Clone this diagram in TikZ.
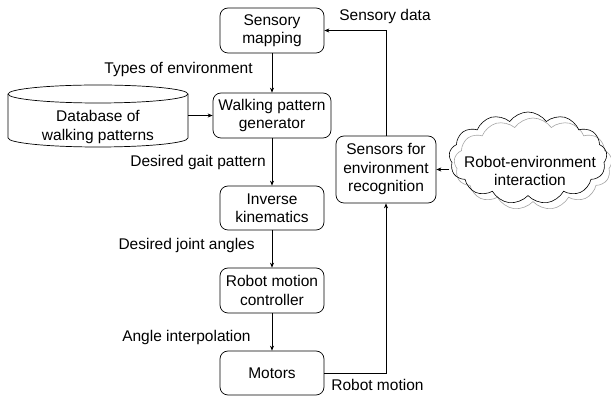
\documentclass[tikz,border=0pt]{standalone}
\usepackage{fontspec}
\setmainfont{Liberation Sans}
\usetikzlibrary{arrows.meta, positioning, shapes.symbols}

\begin{document}
\begin{tikzpicture}[>={Stealth[length=5pt,width=4pt]}, x=1pt, y=1pt, line width=0.7pt,
    font=\fontsize{15.5}{18.5}\selectfont,
    block/.style={draw, rounded corners=8pt, align=center, minimum width=104, minimum height=45, inner sep=1pt},
    lbl/.style={inner sep=0pt},
    puff/.style={cloud, cloud puffs=13, cloud puff arc=110, cloud ignores aspect, minimum width=158, minimum height=92, line width=0.6pt}]
    \useasboundingbox (0,0) rectangle (611,396);

    % Main chain of blocks
    \node[block] (map) at (272,365.5) {Sensory\\mapping};
    \node[block, minimum width=118] (gen) at (272,280.5) {Walking pattern\\generator};
    \node[block, minimum height=44] (ik) at (272,188) {Inverse\\kinematics};
    \node[block] (ctrl) at (272,105.5) {Robot motion\\controller};
    \node[block, minimum height=44] (mot) at (272,23) {Motors};

    % Sensors and environment
    \node[block, minimum width=100, minimum height=67] (sen) at (386,226.5) {Sensors for\\environment\\recognition};
    \node[puff, draw=gray!70] (cloudback) at (533,232) {};
    \node[puff, draw=black] (cloudfront) at (528,238) {};
    \node[align=center] (env) at (530,225) {Robot-environment\\interaction};

    % Database cylinder
    \draw (8,302) -- (8,258) arc[start angle=180, end angle=360, x radius=90, y radius=9] -- (188,302);
    \draw (98,302) ellipse[x radius=90, y radius=9];
    \node[align=center] (db) at (98,269) {Database of\\walking patterns};
    \coordinate (dbout) at (188,280.5);

    % Connectors
    \draw[->] (map) -- (gen);
    \draw[->] (gen) -- (ik);
    \draw[->] (ik) -- (ctrl);
    \draw[->] (ctrl) -- (mot);
    \draw[->] (dbout) -- (gen.west);
    \draw[->] (mot.east) -| (sen.south);
    \draw[->] (sen.north) |- (map.east);
    \draw[->] (cloudfront.west |- sen.east) -- (sen.east);

    % Labels
    \node[lbl, anchor=east] (types) at (253,327) {Types of environment};
    \node[lbl, anchor=east] (gait) at (266,234) {Desired gait pattern};
    \node[lbl, anchor=east] (joint) at (255,151) {Desired joint angles};
    \node[lbl, anchor=east] (interp) at (251,59) {Angle interpolation};
    \node[lbl] (sdata) at (385,380) {Sensory data};
    \node[lbl, anchor=west] (rmotion) at (331,11) {Robot motion};
\end{tikzpicture}
\end{document}
